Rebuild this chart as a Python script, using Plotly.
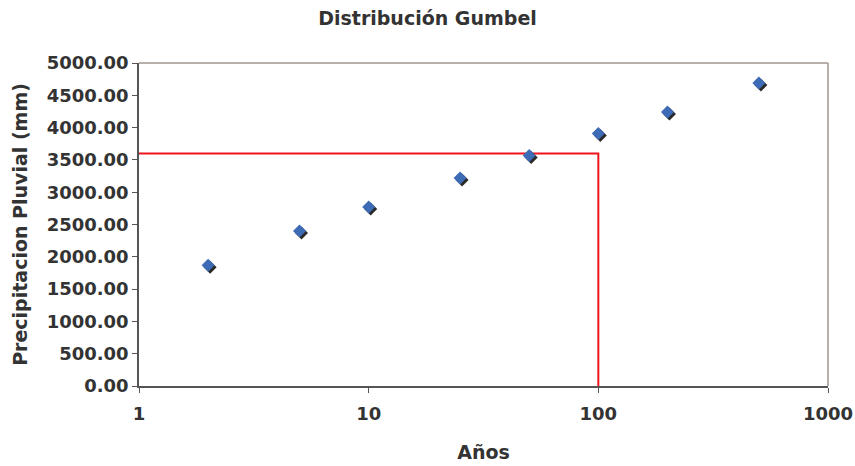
import plotly.graph_objects as go

# Data
anios = [2, 5, 10, 25, 50, 100, 200, 500]
precipitacion = [1870, 2400, 2770, 3220, 3570, 3910, 4240, 4690]
linea_x = [1, 100, 100]
linea_y = [3600, 3600, 0]
xtick_vals = [1, 10, 100, 1000]
xtick_text = ["1", "10", "100", "1000"]

FONT = "DejaVu Sans, Liberation Sans, sans-serif"
TXT = "#333333"

# pixel offsets for shadow (via shifted overlay axes)
px_per_decade = 689 / 3.0
units_per_px = 5000 / 323.3
dx = 2 / px_per_decade
dy = 2 * units_per_px

fig = go.Figure()

fig.add_trace(go.Scatter(
    x=linea_x, y=linea_y, mode="lines",
    line=dict(color="#F0141E", width=2),
    hoverinfo="skip", showlegend=False))

# shadow (shifted overlay axes)
fig.add_trace(go.Scatter(
    x=anios, y=precipitacion, mode="markers", xaxis="x2", yaxis="y2",
    marker=dict(symbol="diamond", size=10, color="#2A2A2A",
                line=dict(width=0)),
    hoverinfo="skip", showlegend=False))

# main markers (overlay axes identical to main so they draw above shadow)
fig.add_trace(go.Scatter(
    x=anios, y=precipitacion, mode="markers", xaxis="x3", yaxis="y3",
    marker=dict(symbol="diamond", size=10, color="#3D6BB5",
                line=dict(width=0)),
    showlegend=False))

tickfont = dict(size=18, family=FONT, color=TXT, weight="bold")
titlefont = dict(size=19, family=FONT, color=TXT, weight="bold")

fig.update_layout(
    width=855, height=466,
    margin=dict(l=139, r=27, t=63, b=80),
    paper_bgcolor="white", plot_bgcolor="white",
    font=dict(family=FONT, color=TXT),
    title=dict(text="Distribución Gumbel", x=0.5, xanchor="center",
               y=1 - 18 / 466, yanchor="middle",
               font=dict(size=19, family=FONT, color=TXT, weight="bold")),
    xaxis=dict(type="log", range=[0, 3], tickvals=xtick_vals, ticktext=xtick_text,
               automargin=False,
               showgrid=False, zeroline=False, showline=True,
               linecolor="#555555", linewidth=1.5,
               ticks="outside", ticklen=5, tickcolor="#555555",
               ticklabelstandoff=6,
               tickfont=tickfont,
               title=dict(text="Años", standoff=22, font=titlefont)),
    yaxis=dict(range=[0, 5000], dtick=500, tickformat=".2f",
               automargin=False,
               showgrid=False, zeroline=False, showline=True,
               linecolor="#555555", linewidth=1.5,
               ticks="outside", ticklen=5, tickcolor="#555555",
               tickfont=tickfont,
               title=dict(text="Precipitacion Pluvial (mm)", standoff=14,
                          font=titlefont)),
    xaxis2=dict(type="log", range=[0 - dx, 3 - dx], overlaying="x", visible=False),
    yaxis2=dict(range=[0 + dy, 5000 + dy], overlaying="y", visible=False),
    xaxis3=dict(type="log", range=[0, 3], overlaying="x", visible=False),
    yaxis3=dict(range=[0, 5000], overlaying="y", visible=False),
    shapes=[
        dict(type="line", xref="x domain", yref="y domain", x0=0, x1=1, y0=1, y1=1,
             line=dict(color="#A0958F", width=1.5)),
        dict(type="line", xref="x domain", yref="y domain", x0=1, x1=1, y0=0, y1=1,
             line=dict(color="#A0958F", width=1.5)),
    ],
)

fig.write_html("out.html")
